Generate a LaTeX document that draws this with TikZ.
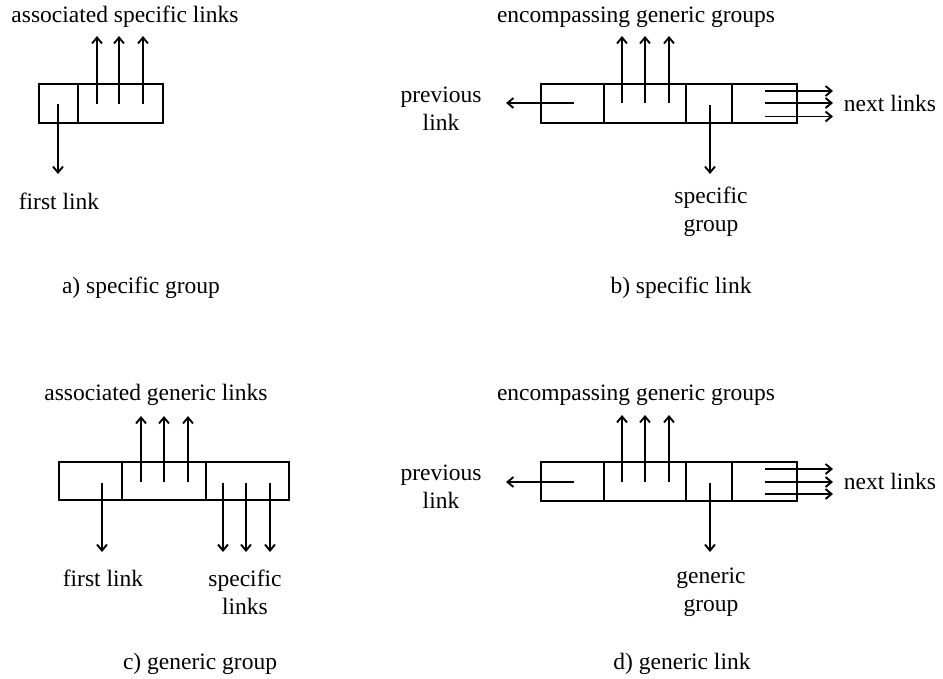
\documentclass[tikz,border=0pt]{standalone}
\usepackage{fontspec}
\setmainfont{Liberation Serif}
\usetikzlibrary{positioning,arrows.meta}

\begin{document}
\begin{tikzpicture}[x=1pt,y=-1pt]
	\tikzstyle{every node}=[font=\fontsize{23.5}{28}\selectfont]
	\tikzstyle{cell}=[draw,line width=2pt,outer sep=0pt,inner sep=0pt,minimum height=39pt]
	\tikzstyle{lbl}=[align=center,inner sep=0pt]
	\tikzstyle{ptr}=[draw,line width=1.9pt,-{Straight Barb[length=6pt,width=10pt]}]

	\useasboundingbox (0,0) rectangle (943,678);

	% a) specific group
	\node[cell,minimum width=39pt,anchor=west] (a1) at (39,103.5) {};
	\node[cell,minimum width=85pt,right=0pt of a1] (a2) {};
	\node[lbl] (aup) at (125,17) {associated specific links};
	\node[lbl] (afirst) at (59,201) {first link};
	\node[lbl] (acap) at (141,288) {a) specific group};
	\foreach \x [count=\i] in {97,119,143} {
		\coordinate (as\i) at (\x,104);
		\coordinate (at\i) at (\x,36);
		\draw[ptr] (as\i) -- (at\i);
	}
	\coordinate (afs) at (58,104);
	\coordinate (aft) at (58,174);
	\draw[ptr] (afs) -- (aft);

	% b) specific link
	\node[cell,minimum width=63pt,anchor=west] (b1) at (541,103.2) {};
	\node[cell,minimum width=82pt,right=0pt of b1] (b2) {};
	\node[cell,minimum width=46pt,right=0pt of b2] (b3) {};
	\node[cell,minimum width=65pt,right=0pt of b3] (b4) {};
	\node[lbl] (bup) at (636,17) {encompassing generic groups};
	\node[lbl] (bprev) at (441,109) {previous\\link};
	\node[lbl] (bnext) at (890,103) {next links};
	\node[lbl] (bgrp) at (711,212) {specific\\group};
	\node[lbl] (bcap) at (681,288) {b) specific link};
	\foreach \x [count=\i] in {622,645,669} {
		\coordinate (bs\i) at (\x,103);
		\coordinate (bt\i) at (\x,36);
		\draw[ptr] (bs\i) -- (bt\i);
	}
	\foreach \y [count=\i] in {91,103,116.5} {
		\coordinate (bns\i) at (765,\y);
		\coordinate (bnt\i) at (833,\y);
		\draw[ptr] (bns\i) -- (bnt\i);
	}
	\coordinate (bps) at (574,103);
	\coordinate (bpt) at (506,103);
	\draw[ptr] (bps) -- (bpt);
	\coordinate (bgs) at (710,105);
	\coordinate (bgt) at (710,174);
	\draw[ptr] (bgs) -- (bgt);

	% c) generic group
	\node[cell,minimum width=63pt,minimum height=38pt,anchor=west] (c1) at (59,481) {};
	\node[cell,minimum width=84pt,minimum height=38pt,right=0pt of c1] (c2) {};
	\node[cell,minimum width=83pt,minimum height=38pt,right=0pt of c2] (c3) {};
	\node[lbl] (cup) at (156,395) {associated generic links};
	\node[lbl] (cfirst) at (103,578) {first link};
	\node[lbl] (cspec) at (245,592) {specific\\links};
	\node[lbl] (ccap) at (200,664) {c) generic group};
	\foreach \x [count=\i] in {141,164,188} {
		\coordinate (cs\i) at (\x,482);
		\coordinate (ct\i) at (\x,416);
		\draw[ptr] (cs\i) -- (ct\i);
	}
	\foreach \x [count=\i] in {223,246,270} {
		\coordinate (css\i) at (\x,483);
		\coordinate (cst\i) at (\x,552);
		\draw[ptr] (css\i) -- (cst\i);
	}
	\coordinate (cfs) at (102,483);
	\coordinate (cft) at (102,552);
	\draw[ptr] (cfs) -- (cft);

	% d) generic link
	\node[cell,minimum width=63pt,anchor=west] (d1) at (541,481.5) {};
	\node[cell,minimum width=82pt,right=0pt of d1] (d2) {};
	\node[cell,minimum width=46pt,right=0pt of d2] (d3) {};
	\node[cell,minimum width=65pt,right=0pt of d3] (d4) {};
	\node[lbl] (dup) at (636,395) {encompassing generic groups};
	\node[lbl] (dprev) at (441,487) {previous\\link};
	\node[lbl] (dnext) at (890,481) {next links};
	\node[lbl] (dgrp) at (711,592) {generic\\group};
	\node[lbl] (dcap) at (682,664) {d) generic link};
	\foreach \x [count=\i] in {622,645,669} {
		\coordinate (ds\i) at (\x,482);
		\coordinate (dt\i) at (\x,415);
		\draw[ptr] (ds\i) -- (dt\i);
	}
	\foreach \y [count=\i] in {469,482,494} {
		\coordinate (dns\i) at (765,\y);
		\coordinate (dnt\i) at (833,\y);
		\draw[ptr] (dns\i) -- (dnt\i);
	}
	\coordinate (dps) at (574,482);
	\coordinate (dpt) at (506,482);
	\draw[ptr] (dps) -- (dpt);
	\coordinate (dgs) at (710,483);
	\coordinate (dgt) at (710,552);
	\draw[ptr] (dgs) -- (dgt);
\end{tikzpicture}
\end{document}
